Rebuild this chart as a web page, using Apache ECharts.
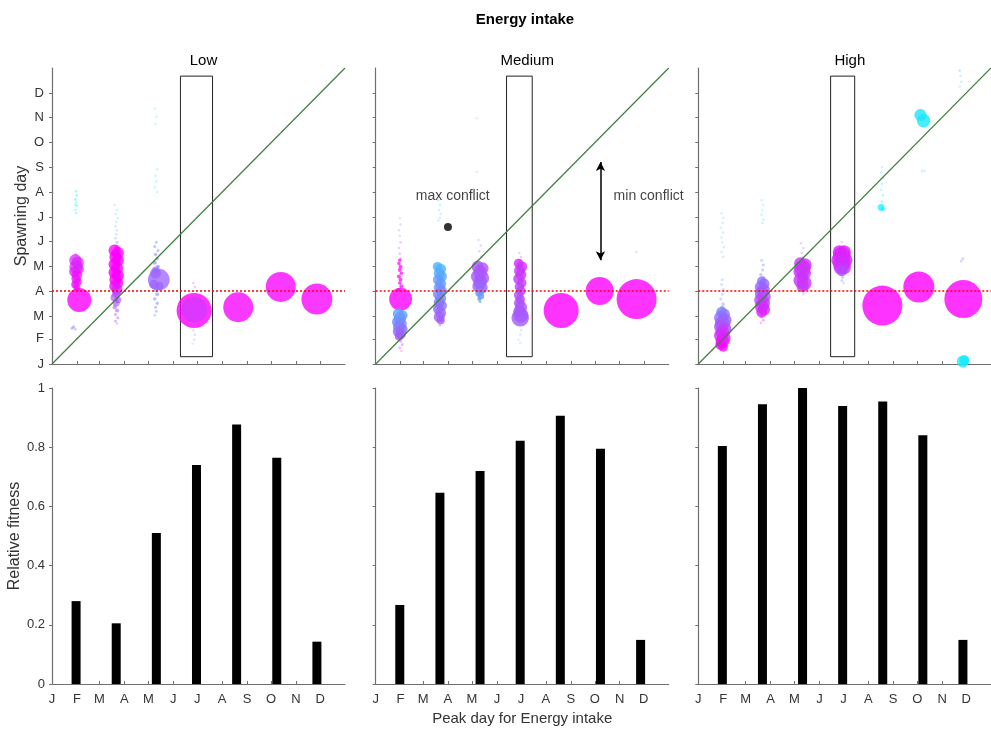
<!DOCTYPE html>
<html>
<head>
<meta charset="utf-8">
<script src="https://cdn.jsdelivr.net/npm/echarts@6/dist/echarts.min.js"></script>
<style>
html,body{margin:0;padding:0;background:#fff;}
#chart{width:991px;height:730px;}
</style>
</head>
<body>
<div id="chart"></div>
<script>
// ---------------- DATA ----------------
const monthLetters = ['J','F','M','A','M','J','J','A','S','O','N','D'];
const monthStarts = [0,31,59,90,120,151,181,212,243,273,304,334];
const panelNames = ['Low','Medium','High'];
const peakDays = [30,80,130,180,230,280,330];
const fitnessLow = [0.28,0.205,0.51,0.74,0.877,0.764,0.143];
const fitnessMedium = [0.267,0.646,0.72,0.822,0.906,0.795,0.149];
const fitnessHigh = [0.804,0.945,1.0,0.939,0.954,0.84,0.149];
const thresholdDay = 90;
const boxLow = [160,200];
const boxMedium = [163,195];
const boxHigh = [165,195];
const boxSpawn = [9,355];
const maxConflictPoint = [90,169];
const maxConflictLabel = [96,207];
const minConflictArrow = [[280,128],[280,249]];
const minConflictLabel = [340,207];
// spawning points: [peak day, spawning day, weight, hue (0 cyan .. 1 magenta), density]
const spawnLow = [
  [30,213,2.5,0.05,0.5],[31,208,2.5,0.05,0.5],[29,203,2.5,0.05,0.55],[30,199,2.5,0.05,0.5],[31,195,2.5,0.05,0.5],[29,190,2.5,0.05,0.45],[30,186,2.5,0.05,0.45],[29,196,2.5,0.05,0.4],
  [30,135,3,0.9,0.4],[29,128,9,0.87,0.9],[32,125,9,0.87,0.9],[30,120,10,0.85,0.9],[33,117,8,0.87,0.9],[28,114,8,0.9,0.9],[31,110,8,0.92,0.9],[30,105,7,0.93,0.95],[32,101,6,0.95,0.95],[29,98,6,0.95,1],[31,94,5,0.95,1],
  [34,79,24,1,1],
  [27,46,3,0.6,0.6],[25,44,3,0.55,0.6],[29,43,2.5,0.6,0.5],
  [78,196,2.5,0.25,0.3],[81,190,2.5,0.2,0.3],[79,185,2.5,0.25,0.3],[82,180,2.5,0.3,0.3],[80,175,2.5,0.3,0.3],[79,170,2.5,0.3,0.35],[81,165,2.5,0.35,0.35],[80,160,2.5,0.4,0.35],[79,155,2.5,0.45,0.4],[81,150,3,0.5,0.45],
  [80,145,4,0.95,0.6],[78,140,9,1,0.95],[82,137,9,1,0.95],[79,132,9,1,1],[82,128,9,1,1],[78,123,9,1,1],[81,118,9,1,1],[78,113,9,1,1],[82,109,9,1,1],[79,104,9,1,1],[82,100,8,1,1],[78,96,8,0.95,1],[81,92,8,0.9,1],
  [80,87,6,0.75,0.9],[78,82,6,0.7,0.85],[82,79,5,0.7,0.8],[80,75,5,0.68,0.8],[78,70,4,0.68,0.7],[81,66,4,0.65,0.7],[79,61,3,0.65,0.6],[82,57,3,0.65,0.55],[79,53,3,0.65,0.5],[81,50,2.5,0.65,0.4],
  [128,315,2.5,0.1,0.3],[130,305,2.5,0.1,0.3],[129,296,2.5,0.1,0.3],[131,240,2.5,0.1,0.35],[129,232,2.5,0.1,0.35],[130,225,2.5,0.1,0.35],[128,218,2.5,0.1,0.35],[131,212,2.5,0.15,0.3],
  [130,150,3,0.5,0.55],[128,145,3,0.5,0.6],[132,140,3,0.5,0.6],[129,135,3.5,0.5,0.65],[131,130,3.5,0.55,0.7],[128,125,4,0.55,0.7],[132,120,4,0.55,0.75],[129,116,5,0.55,0.8],
  [129,112,8,0.6,0.9],[127,98,7,0.55,0.9],[134,96,6,0.6,0.9],[133,104,16,0.62,0.95],
  [129,91,4,0.5,0.7],[131,86,4,0.5,0.65],[128,80,3.5,0.5,0.65],[131,75,3.5,0.5,0.6],[129,70,3,0.5,0.55],[130,65,3,0.5,0.5],[128,60,2.5,0.45,0.45],
  [176,100,2.5,0.9,0.3],[178,95,2.5,0.9,0.3],
  [177,66,35,1,1],[177,67,26,0.78,0.75],
  [176,42,2.5,0.5,0.35],[178,36,2.5,0.5,0.35],[177,30,2.5,0.45,0.3],[175,25,2.5,0.4,0.25],
  [232,70,30,0.97,1],
  [285,95,30,0.97,1],
  [330,80,31,0.97,1]
];
const spawnMedium = [
  [30,180,2.5,0.6,0.25],[31,172,2.5,0.6,0.3],[29,165,2.5,0.6,0.3],[30,158,2.5,0.65,0.3],[31,150,2.5,0.7,0.35],[29,143,2.5,0.75,0.35],[30,136,2.5,0.8,0.4],[31,130,2.5,0.85,0.45],
  [30,128,3.5,1,0.9],[29,124,3.5,1,0.9],[31,120,4,1,0.9],[30,116,4,1,0.9],[32,112,3.5,1,0.9],[29,108,4,1,0.9],[31,104,4,1,0.9],[30,100,3.5,1,0.9],[32,96,4,1,0.9],[29,92,3.5,1,0.9],
  [31,80,17,1,1],
  [28,62,8,0.35,1],[33,60,8,0.38,1],[30,56,9,0.4,1],[27,52,8,0.45,1],[32,50,8,0.45,1],[29,46,9,0.5,1],[33,43,8,0.55,1],[28,40,8,0.58,1],[31,37,8,0.62,1],[29,34,6,0.65,1],
  [31,28,3,0.75,0.5],[33,24,3,0.8,0.4],[30,20,3,0.85,0.4],[32,16,2.5,0.9,0.3],
  [78,202,2.5,0.2,0.3],[80,196,2.5,0.2,0.3],[79,190,2.5,0.2,0.3],[81,185,2.5,0.2,0.3],[80,180,2.5,0.25,0.3],[78,177,2.5,0.25,0.3],
  [77,120,7,0.3,1],[81,117,8,0.3,1],[79,112,8,0.32,1],[82,108,8,0.35,1],[78,104,8,0.38,1],[81,99,8,0.4,1],[79,94,8,0.42,1],[82,90,8,0.45,1],[78,86,8,0.48,1],[81,81,8,0.5,1],[79,76,8,0.52,1],[82,72,8,0.55,1],[78,68,8,0.58,1],[81,63,8,0.6,1],[79,58,8,0.62,1],[81,54,6,0.65,1],[80,48,3,0.65,0.5],
  [128,153,2.5,0.6,0.3],[131,146,2.5,0.6,0.3],[129,139,2.5,0.65,0.35],[132,133,2.5,0.65,0.4],
  [127,120,9,0.68,1],[133,118,9,0.68,1],[130,113,10,0.68,1],[127,108,10,0.66,1],[133,106,10,0.66,1],[130,101,10,0.65,1],[128,96,9,0.62,1],[132,94,9,0.6,1],
  [129,88,6,0.45,1],[131,84,5,0.4,1],[129,80,4,0.38,0.9],[130,77,3,0.35,0.8],
  [126,237,2.5,0.2,0.3],[126,303,2.5,0.2,0.25],
  [179,137,2.5,0.8,0.3],[181,132,2.5,0.8,0.35],[180,128,3,0.8,0.5],
  [178,124,7,0.85,1],[182,120,8,0.82,1],[179,115,8,0.8,1],[181,110,8,0.78,1],[178,105,8,0.78,1],[182,100,7,0.75,1],[179,95,7,0.75,1],[181,90,7,0.73,1],[178,85,7,0.72,1],[180,80,7,0.7,1],[179,75,8,0.7,1],[181,70,9,0.68,1],[179,65,9,0.66,1],[181,60,11,0.65,1],[180,57,13,0.65,1],
  [179,48,2.5,0.3,0.3],[181,42,2.5,0.3,0.3],[180,36,2.5,0.3,0.3],[178,30,2.5,0.3,0.25],[180,26,2.5,0.3,0.25],
  [231,66,35,1,1],
  [279,90,28,1,1],
  [325,138,2.5,0.5,0.3],
  [325,80,40,1,1]
];
const spawnHigh = [
  [29,186,2.5,0.2,0.3],[31,180,2.5,0.2,0.3],[30,174,2.5,0.2,0.3],[28,168,2.5,0.2,0.3],[31,162,2.5,0.2,0.3],[29,156,2.5,0.25,0.3],[30,150,2.5,0.25,0.3],[32,144,2.5,0.25,0.3],[29,138,2.5,0.25,0.3],[31,132,2.5,0.25,0.3],
  [30,104,3,0.4,0.35],[29,98,3,0.4,0.35],[31,92,3,0.4,0.4],[30,86,3,0.4,0.4],[28,80,3,0.45,0.45],[31,74,3.5,0.45,0.5],[30,70,4,0.45,0.6],
  [29,64,8,0.5,1],[32,61,9,0.52,1],[28,57,10,0.55,1],[33,54,10,0.6,1],[30,50,11,0.62,1],[28,46,10,0.68,1],[33,43,10,0.72,1],[30,39,10,0.78,1],[28,35,10,0.82,1],[32,32,10,0.86,1],[30,28,10,0.9,1],[28,24,8,0.95,1],[31,21,7,0.97,1],
  [79,202,2.5,0.2,0.3],[81,196,2.5,0.2,0.3],[80,190,2.5,0.2,0.3],[79,184,2.5,0.2,0.3],[81,178,2.5,0.2,0.3],[80,174,2.5,0.2,0.3],
  [79,128,3,0.45,0.45],[81,122,3,0.45,0.5],[80,116,3,0.45,0.5],[78,110,3.5,0.45,0.55],[81,106,4,0.5,0.6],
  [79,102,7,0.55,1],[82,99,8,0.58,1],[78,95,9,0.6,1],[81,91,10,0.62,1],[79,87,10,0.65,1],[82,83,10,0.68,1],[78,79,10,0.72,1],[81,75,10,0.76,1],[79,71,10,0.8,1],[82,67,9,0.83,1],[79,64,8,0.86,1],
  [79,58,3,0.95,0.5],[81,54,3,0.95,0.4],[78,51,2.5,1,0.35],
  [128,149,2.5,0.75,0.3],[131,143,2.5,0.75,0.3],[129,137,2.5,0.75,0.35],[130,131,3,0.75,0.45],
  [127,124,9,0.82,1],[133,122,10,0.82,1],[130,118,12,0.82,1],[127,114,10,0.8,1],[133,112,9,0.8,1],[130,108,8,0.8,1],[128,103,11,0.8,1],[132,100,11,0.8,1],[130,96,9,0.78,1],
  [130,90,3,0.8,0.4],[131,86,2.5,0.8,0.3],
  [179,150,2.5,0.8,0.3],[181,145,2.5,0.8,0.35],
  [176,138,10,0.88,1],[182,138,10,0.88,1],[179,134,13,0.88,1],[176,128,12,0.86,1],[183,128,11,0.86,1],[179,124,13,0.84,1],[177,119,10,0.8,1],[182,119,10,0.8,1],[179,115,8,0.72,1],
  [178,111,4,0.6,0.6],[180,107,3,0.55,0.5],[179,103,3,0.55,0.4],[181,100,2.5,0.5,0.35],
  [229,243,2.5,0.1,0.35],[228,236,2.5,0.1,0.35],[230,229,2.5,0.1,0.35],[229,222,2.5,0.1,0.35],[228,215,2.5,0.1,0.35],[230,208,2.5,0.1,0.4],[229,200,2.5,0.1,0.45],[228,193,5,0.05,0.9],[230,191,4,0.05,0.9],
  [229.5,72,40,1,1],
  [279,238,2.5,0.3,0.3],[282,238,2.5,0.3,0.3],
  [277,307,9,0.1,1],[281,300,10,0.1,1],
  [275,95,31,1,1],
  [326,362,2.5,0.15,0.5],[327,355,2.5,0.2,0.35],[328,348,2.5,0.2,0.35],[326,342,2.5,0.2,0.3],
  [330,130,3,0.45,0.4],[328,127,3,0.45,0.4],
  [330.5,80,38,1,1],
  [330,3,9,0.08,1],[332,5,7,0.08,1]
];

// ---------------- CHART ----------------
const FONT = '"Liberation Sans", Arial, sans-serif';
const AXIS_COLOR = '#6f6f6f';
const LABEL_COLOR = '#333';
const spawnSets = [spawnLow, spawnMedium, spawnHigh];
const fitnessSets = [fitnessLow, fitnessMedium, fitnessHigh];
const boxes = [boxLow, boxMedium, boxHigh];
const lefts = [52, 375.7, 698.3];
const W = 293, H = 296;

function cool(h, a) {
  return 'rgba(' + Math.round(255 * h) + ',' + Math.round(255 * (1 - h)) + ',255,' + a + ')';
}
// clusters of individual dots are drawn a bit larger so they merge into blobs
function dotSize(v) {
  const w = v[2];
  return (w >= 5 && w < 20) ? w * 1.35 : w;
}
function monthLabel(v) {
  const i = monthStarts.indexOf(Math.round(v));
  return i >= 0 ? monthLetters[i] : '';
}

const grids = [], xAxes = [], yAxes = [], series = [], titles = [];
titles.push({text: 'Energy intake', left: 520, top: 7, textAlign: 'center',
  textStyle: {fontFamily: FONT, fontSize: 15, fontWeight: 'bold', color: '#000'}});

for (let p = 0; p < 3; p++) {
  titles.push({text: panelNames[p], left: lefts[p] + W / 2, top: 48, textAlign: 'center',
    textStyle: {fontFamily: FONT, fontSize: 15, fontWeight: 'normal', color: '#000'}});
  grids.push({left: lefts[p], top: 68, width: W, height: H, containLabel: false});
  grids.push({left: lefts[p], top: 388, width: W, height: H, containLabel: false});
}

for (let p = 0; p < 3; p++) {
  const gTop = p * 2, gBot = p * 2 + 1;
  xAxes.push({gridIndex: gTop, type: 'value', min: 0, max: 365,
    axisLine: {show: true, onZero: false, lineStyle: {color: AXIS_COLOR, width: 1.2}},
    axisTick: {show: true, inside: true, length: 3, customValues: monthStarts, lineStyle: {color: AXIS_COLOR}},
    axisLabel: {show: false}, splitLine: {show: false}});
  xAxes.push({gridIndex: gBot, type: 'value', min: 0, max: 365,
    name: p === 1 ? 'Peak day for Energy intake' : '', nameLocation: 'middle', nameGap: 27,
    nameTextStyle: {fontFamily: FONT, fontSize: 15, color: LABEL_COLOR},
    axisLine: {show: true, onZero: false, lineStyle: {color: AXIS_COLOR, width: 1.2}},
    axisTick: {show: true, inside: true, length: 3, customValues: monthStarts, lineStyle: {color: AXIS_COLOR}},
    axisLabel: {show: true, customValues: monthStarts, formatter: monthLabel, margin: 9,
      fontFamily: FONT, fontSize: 13, color: LABEL_COLOR},
    splitLine: {show: false}});
  yAxes.push({gridIndex: gTop, type: 'value', min: 0, max: 365,
    name: p === 0 ? 'Spawning day' : '', nameLocation: 'middle', nameGap: 19,
    nameTextStyle: {fontFamily: FONT, fontSize: 16, color: LABEL_COLOR},
    axisLine: {show: true, onZero: false, lineStyle: {color: AXIS_COLOR, width: 1.2}},
    axisTick: {show: true, inside: false, length: 3, customValues: monthStarts, lineStyle: {color: AXIS_COLOR}},
    axisLabel: {show: p === 0, customValues: monthStarts, formatter: monthLabel, margin: 8,
      fontFamily: FONT, fontSize: 13, color: LABEL_COLOR},
    splitLine: {show: false}});
  yAxes.push({gridIndex: gBot, type: 'value', min: 0, max: 1, interval: 0.2,
    name: p === 0 ? 'Relative fitness' : '', nameLocation: 'middle', nameGap: 25,
    nameTextStyle: {fontFamily: FONT, fontSize: 16, color: LABEL_COLOR},
    axisLine: {show: true, onZero: false, lineStyle: {color: AXIS_COLOR, width: 1.2}},
    axisTick: {show: true, inside: false, length: 3, lineStyle: {color: AXIS_COLOR}},
    axisLabel: {show: p === 0, margin: 7, fontFamily: FONT, fontSize: 13, color: LABEL_COLOR,
      formatter: v => String(Math.round(v * 10) / 10)},
    splitLine: {show: false}});

  const xiTop = p * 2, xiBot = p * 2 + 1;
  // rectangle outline (behind the points)
  const b = boxes[p];
  series.push({type: 'line', xAxisIndex: xiTop, yAxisIndex: xiTop,
    data: [[b[0], boxSpawn[0]], [b[1], boxSpawn[0]], [b[1], boxSpawn[1]], [b[0], boxSpawn[1]], [b[0], boxSpawn[0]]],
    symbol: 'none', lineStyle: {color: '#222', width: 1}, silent: true, z: 1});
  series.push({type: 'scatter', xAxisIndex: xiTop, yAxisIndex: xiTop,
    data: spawnSets[p], symbolSize: dotSize,
    itemStyle: {color: prm => cool(prm.data[3], prm.data[4])},
    silent: true, z: 2});
  series.push({type: 'line', xAxisIndex: xiTop, yAxisIndex: xiTop, data: [[0,0],[365,365]],
    symbol: 'none', lineStyle: {color: '#3f7d3f', width: 1.2}, silent: true, z: 4});
  series.push({type: 'line', xAxisIndex: xiTop, yAxisIndex: xiTop, data: [[0,thresholdDay],[365,thresholdDay]],
    symbol: 'none', lineStyle: {color: '#ff0000', width: 1.5, type: [2,2]}, silent: true, z: 5});
  series.push({type: 'bar', xAxisIndex: xiBot, yAxisIndex: xiBot,
    data: peakDays.map((d, i) => [d, fitnessSets[p][i]]), barWidth: 9,
    itemStyle: {color: '#000'}, silent: true});
}

// annotations in Medium panel
series.push({type: 'scatter', xAxisIndex: 2, yAxisIndex: 2, data: [maxConflictPoint],
  symbolSize: 8, itemStyle: {color: '#000'}, silent: true, z: 6});
series.push({type: 'scatter', xAxisIndex: 2, yAxisIndex: 2,
  data: [{value: maxConflictLabel, label: {formatter: 'max conflict'}},
         {value: minConflictLabel, label: {formatter: 'min conflict'}}],
  symbolSize: 0, silent: true, z: 6,
  label: {show: true, position: 'inside', fontFamily: FONT, fontSize: 14, color: '#111'}});
series.push({type: 'line', xAxisIndex: 2, yAxisIndex: 2, data: [], silent: true,
  markLine: {silent: true, symbol: ['arrow','arrow'], symbolSize: [7,9], label: {show: false},
    lineStyle: {color: '#000', width: 1.5, type: 'solid'},
    data: [[{coord: minConflictArrow[0]}, {coord: minConflictArrow[1]}]]}});

const chart = echarts.init(document.getElementById('chart'), null, {renderer: 'canvas'});
chart.setOption({
  animation: false,
  backgroundColor: '#fff',
  title: titles,
  grid: grids,
  xAxis: xAxes,
  yAxis: yAxes,
  series: series
});
</script>
</body>
</html>
